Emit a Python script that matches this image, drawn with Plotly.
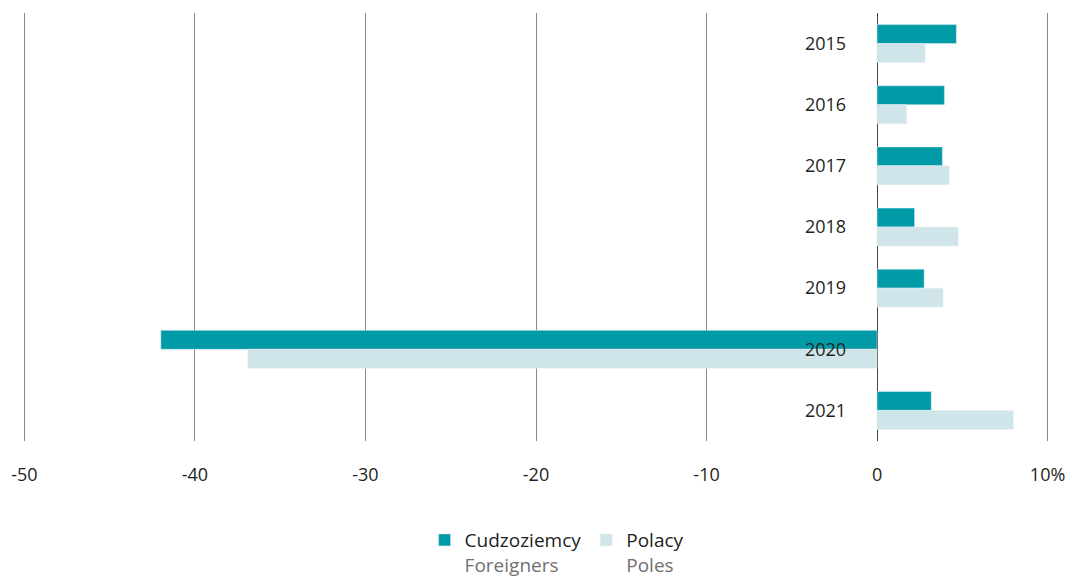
import plotly.graph_objects as go

years = ["2015", "2016", "2017", "2018", "2019", "2020", "2021"]
foreigners = [4.65, 3.95, 3.83, 2.2, 2.76, -42.0, 3.18]
poles = [2.82, 1.73, 4.24, 4.76, 3.87, -36.9, 8.0]
x_ticks = [-50, -40, -30, -20, -10, 0, 10]
x_tick_text = ["-50", "-40", "-30", "-20", "-10", "0", "10%"]

TEAL = "#009BA7"
LIGHT = "#CFE5E9"
FONT = "Open Sans"

fig = go.Figure()
fig.add_trace(go.Bar(
    y=years, x=foreigners, orientation="h", marker_color=TEAL,
    name="Cudzoziemcy<br><span style='color:#707070'>Foreigners</span>",
))
fig.add_trace(go.Bar(
    y=years, x=poles, orientation="h", marker_color=LIGHT,
    name="Polacy<br><span style='color:#707070'>Poles</span>",
))

xmin, xmax = -50.2, 10.2
fig.update_layout(
    width=1071, height=569,
    margin=dict(l=13, r=28, t=5, b=136, autoexpand=False),
    paper_bgcolor="white", plot_bgcolor="white",
    barmode="group", bargap=0.38, bargroupgap=0,
    font=dict(family=FONT, size=18, color="#231f20"),
    xaxis=dict(
        range=[xmin, xmax], tickvals=x_ticks, ticktext=x_tick_text,
        showgrid=True, gridcolor="#8a8a8a", gridwidth=1,
        zeroline=True, zerolinecolor="#444444", zerolinewidth=1.3,
        showline=False, ticks="", ticklabelstandoff=21, automargin=False,
        tickfont=dict(size=18, color="#231f20"),
    ),
    yaxis=dict(
        autorange="reversed", type="category",
        anchor="free", position=(0 - xmin) / (xmax - xmin),
        showgrid=False, zeroline=False, showline=False, ticks="",
        ticklabelstandoff=31, automargin=False,
        tickfont=dict(size=18, color="#231f20"),
    ),
    legend=dict(
        orientation="h", x=0.52, xanchor="center", y=-0.187, yanchor="top",
        valign="top", font=dict(size=19, color="#231f20"),
        itemwidth=30, traceorder="normal",
    ),
    showlegend=True,
)

fig.write_html("out.html")
